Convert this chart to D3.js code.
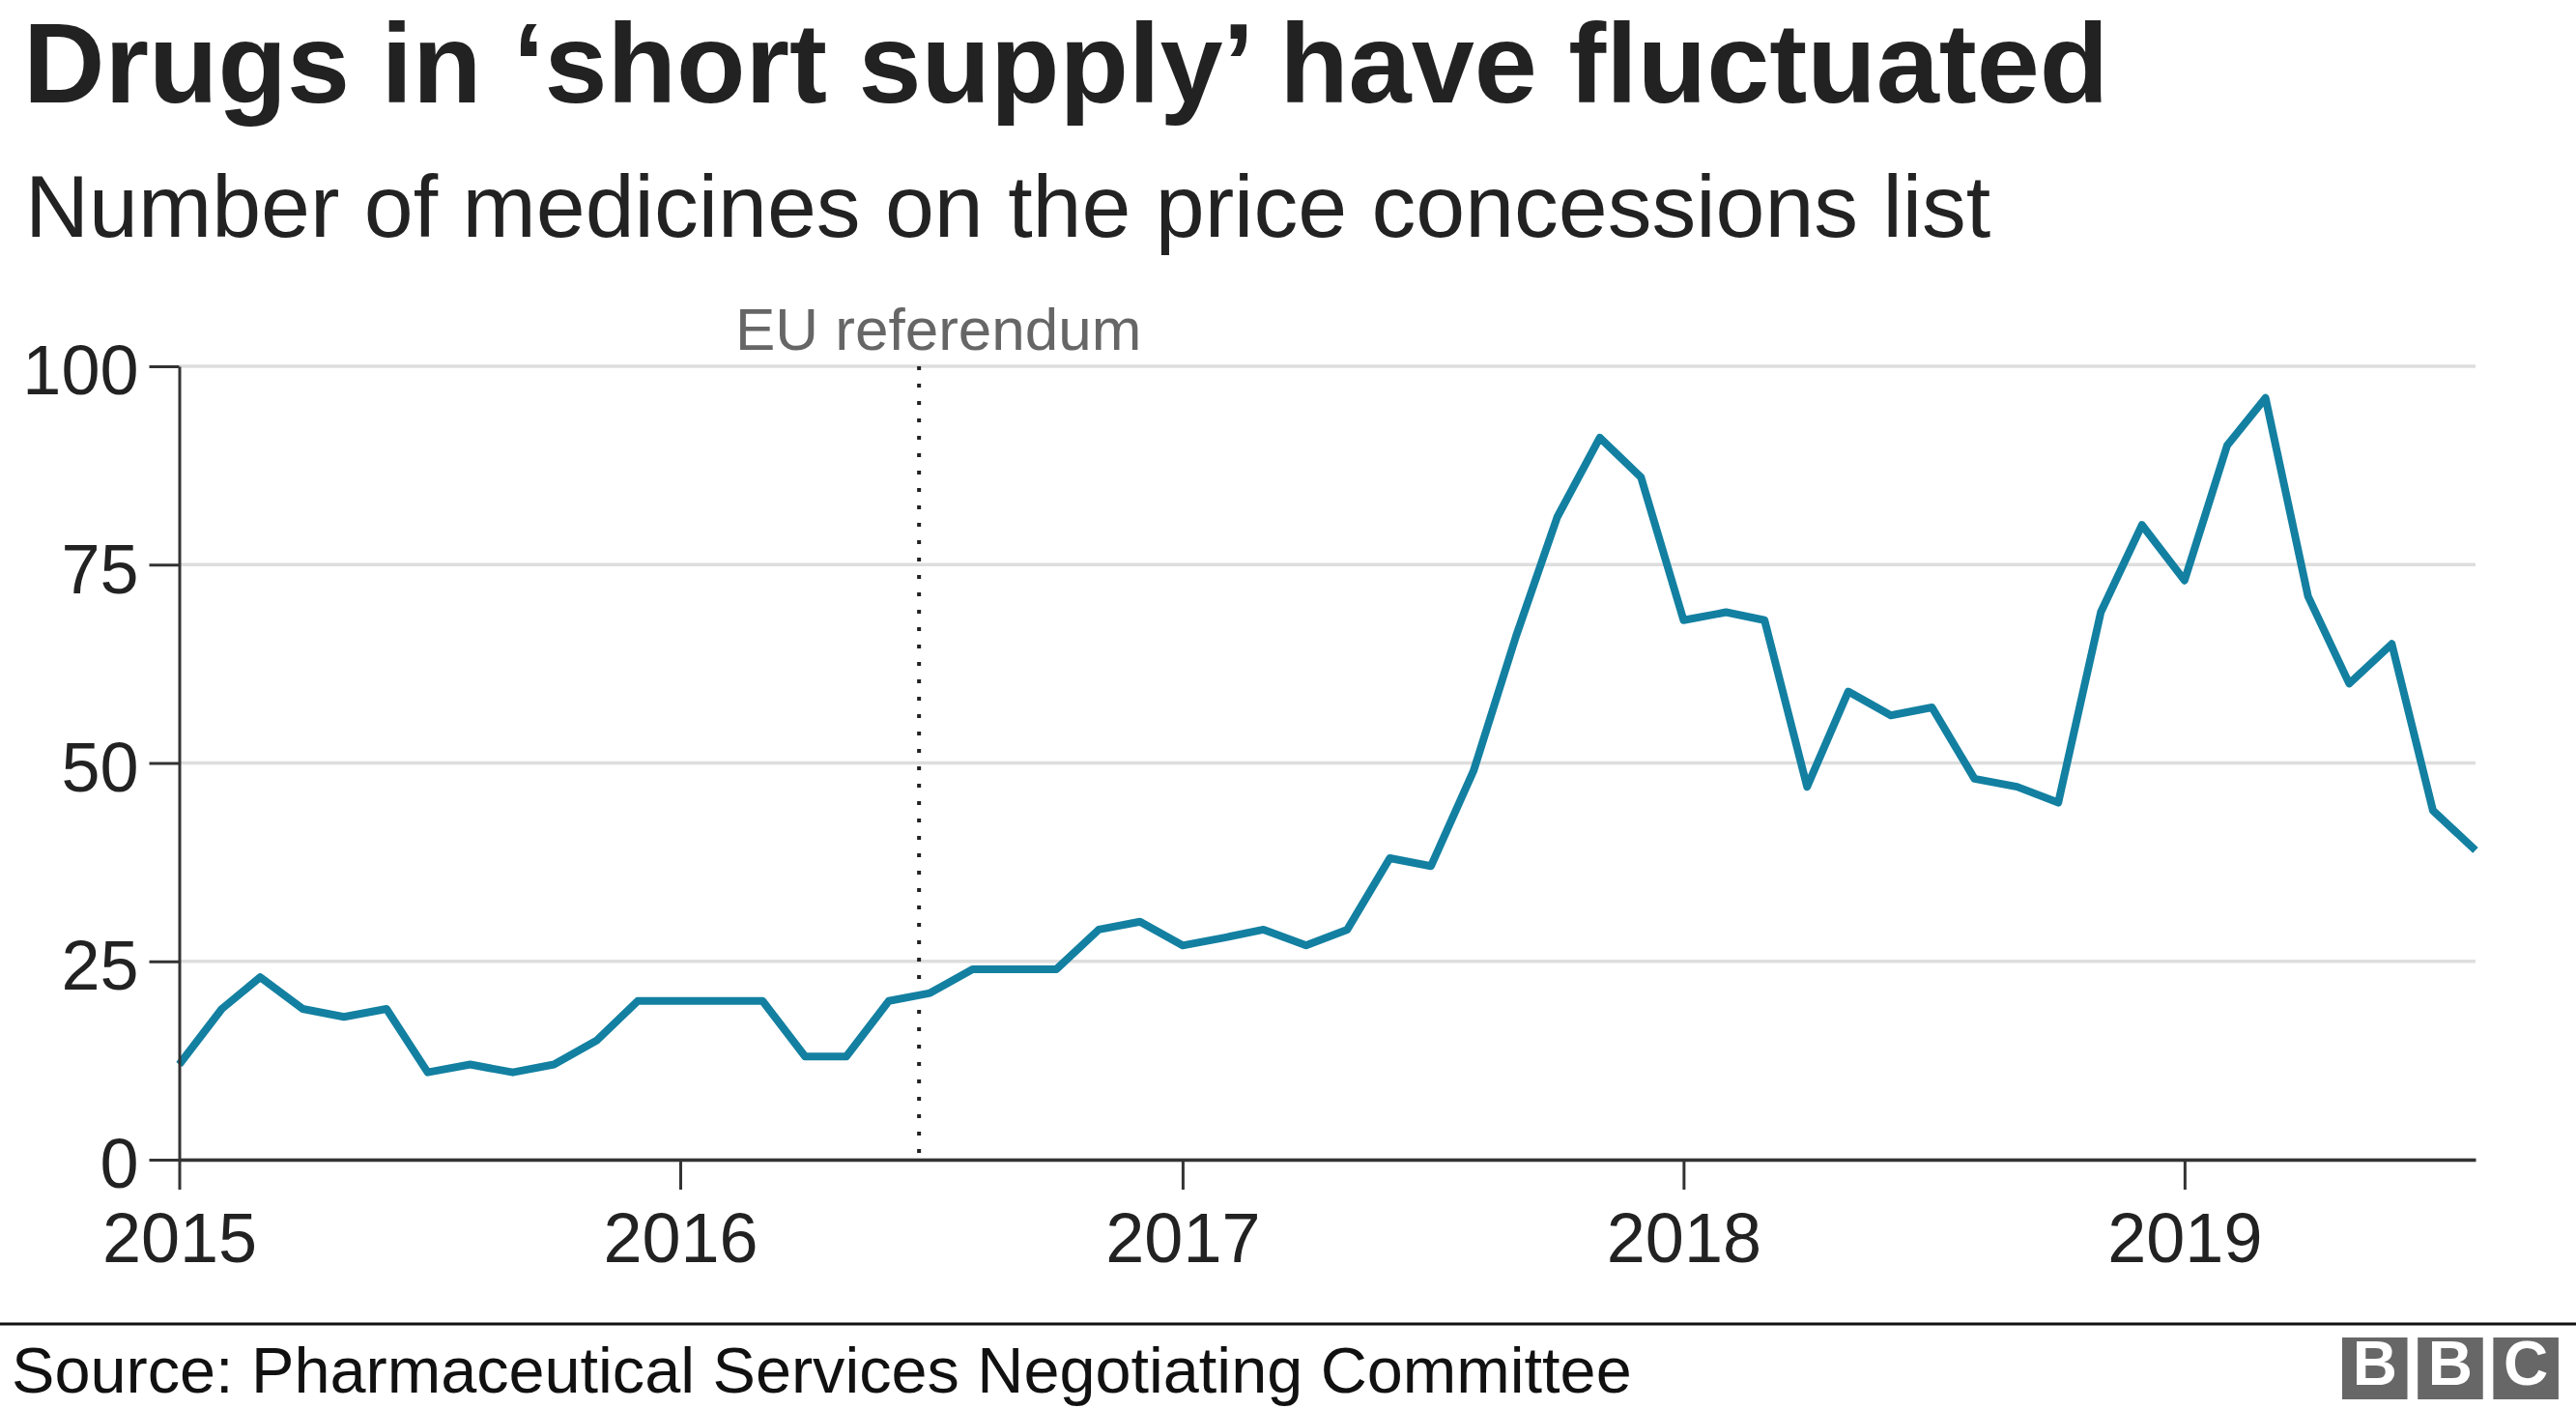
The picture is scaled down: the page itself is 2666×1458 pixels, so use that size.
<!DOCTYPE html>
<html><head><meta charset="utf-8">
<script src="https://cdn.jsdelivr.net/npm/d3@7"></script>
<style>body{margin:0;background:#fff}svg{display:block}</style>
</head><body>
<svg id="chart" width="2666" height="1458"></svg>
<script>
// ---- data ----
const months = [
  "2015-01","2015-02","2015-03","2015-04","2015-05","2015-06","2015-07","2015-08","2015-09","2015-10","2015-11","2015-12",
  "2016-01","2016-02","2016-03","2016-04","2016-05","2016-06","2016-07","2016-08","2016-09","2016-10","2016-11","2016-12",
  "2017-01","2017-02","2017-03","2017-04","2017-05","2017-06","2017-07","2017-08","2017-09","2017-10","2017-11","2017-12",
  "2018-01","2018-02","2018-03","2018-04","2018-05","2018-06","2018-07","2018-08","2018-09","2018-10","2018-11","2018-12",
  "2019-01","2019-02","2019-03","2019-04","2019-05","2019-06","2019-07","2019-08"
];
const medicines = [
  12,19,23,19,18,19,11,12,11,12,15,20,
  20,20,20,13,13,20,21,24,24,24,29,30,
  27,28,29,27,29,38,37,49,66,81,91,86,
  68,69,68,47,59,56,57,48,47,45,69,80,
  73,90,96,71,60,65,44,39
];
const yTickValues = [0,25,50,75,100];
const xTickYears = ["2015","2016","2017","2018","2019"];
const eventDate = "2016-06-23";
const eventLabel = "EU referendum";
const titleText = "Drugs in \u2018short supply\u2019 have fluctuated";
const subtitleText = "Number of medicines on the price concessions list";
const sourceText = "Source: Pharmaceutical Services Negotiating Committee";
const logoLetters = ["B","B","C"];

// ---- drawing ----
const FONT = "'Liberation Sans', Arial, Helvetica, sans-serif";
const parseMonth = d3.timeParse("%Y-%m");
const parseDay = d3.timeParse("%Y-%m-%d");
const parseYear = d3.timeParse("%Y");
const data = months.map((m,i)=>({date: parseMonth(m), value: medicines[i]}));

const svg = d3.select("#chart");
svg.append("rect").attr("width",2666).attr("height",1458).attr("fill","#fff");

const x = d3.scaleTime()
  .domain(d3.extent(data, d=>d.date))
  .range([185.5, 2562]);
const y = d3.scaleLinear().domain([0,100]).range([1200, 379]);

// title / subtitle
svg.append("text").attr("x",24).attr("y",106)
  .attr("font-family",FONT).attr("font-weight","bold").attr("font-size",117)
  .attr("fill","#222").text(titleText);
svg.append("text").attr("x",26).attr("y",245)
  .attr("font-family",FONT).attr("font-size",91.5)
  .attr("fill","#222").text(subtitleText);

// gridlines
svg.append("g").selectAll("line").data(yTickValues).join("line")
  .attr("x1", x.range()[0]).attr("x2", x.range()[1])
  .attr("y1", d=>y(d)).attr("y2", d=>y(d))
  .attr("stroke","#dedede").attr("stroke-width",3.5);

// event line
const ex = x(parseDay(eventDate));
svg.append("line").attr("x1",ex).attr("x2",ex).attr("y1",y(100)).attr("y2",y(0))
  .attr("stroke","#222").attr("stroke-width",4).attr("stroke-dasharray","4,14");
svg.append("text").attr("x",ex+20).attr("y",362).attr("text-anchor","middle")
  .attr("font-family",FONT).attr("font-size",62).attr("fill","#666").text(eventLabel);

// line
svg.append("path").datum(data)
  .attr("fill","none").attr("stroke","#1380A1").attr("stroke-width",8)
  .attr("stroke-linejoin","round").attr("stroke-linecap","butt")
  .attr("d", d3.line().x(d=>x(d.date)).y(d=>y(d.value)));

// y axis
const gy = svg.append("g").attr("transform",`translate(${x.range()[0]},0)`)
  .call(d3.axisLeft(y).tickValues(yTickValues).tickSize(31).tickSizeOuter(0).tickPadding(11));
gy.select(".domain").attr("stroke","#333").attr("stroke-width",3);
gy.selectAll(".tick line").attr("stroke","#333").attr("stroke-width",3);
gy.selectAll(".tick text").attr("font-family",FONT).attr("font-size",72)
  .attr("fill","#222").attr("dy","0.4em");

// x axis
const gx = svg.append("g").attr("transform",`translate(0,${y(0)})`)
  .call(d3.axisBottom(x).tickValues(xTickYears.map(parseYear))
    .tickFormat((d,i)=>xTickYears[i]).tickSize(31).tickSizeOuter(0).tickPadding(24));
gx.select(".domain").attr("stroke","#333").attr("stroke-width",3.4);
gx.selectAll(".tick line").attr("stroke","#333").attr("stroke-width",3);
gx.selectAll(".tick text").attr("font-family",FONT).attr("font-size",72).attr("fill","#222");

// footer
svg.append("line").attr("x1",0).attr("x2",2666).attr("y1",1370).attr("y2",1370)
  .attr("stroke","#111").attr("stroke-width",3);
svg.append("text").attr("x",12).attr("y",1441)
  .attr("font-family",FONT).attr("font-size",66.6).attr("fill","#111").text(sourceText);

const logo = svg.append("g");
logo.selectAll("rect").data(logoLetters).join("rect")
  .attr("x",(d,i)=>2424+i*78.2).attr("y",1384).attr("width",67.5).attr("height",64)
  .attr("fill","#676767");
logo.selectAll("text").data(logoLetters).join("text")
  .attr("x",(d,i)=>2424+i*78.2+33.75).attr("y",1433).attr("text-anchor","middle")
  .attr("font-family",FONT).attr("font-weight","bold").attr("font-size",64)
  .attr("fill","#fff").text(d=>d);
</script>
</body></html>
